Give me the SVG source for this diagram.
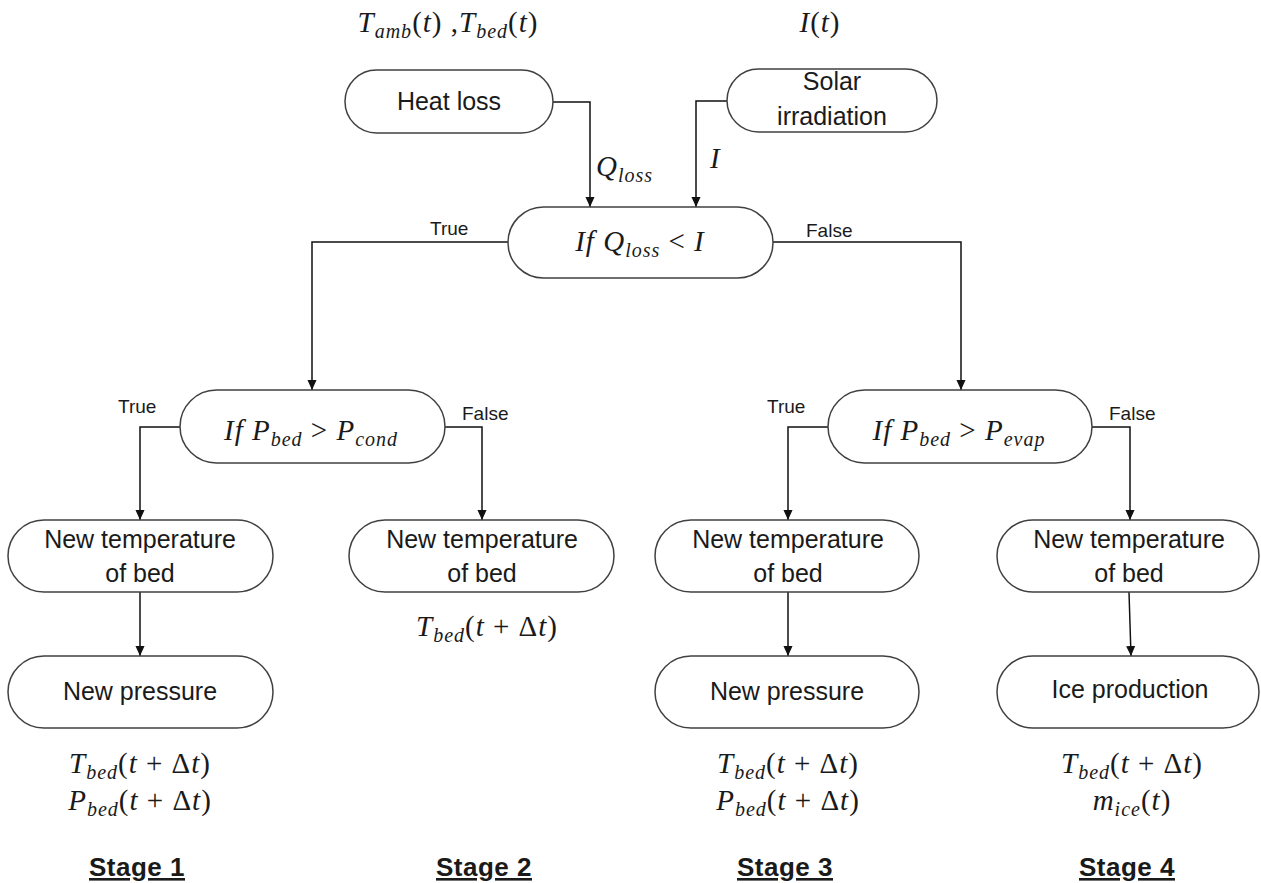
<svg xmlns="http://www.w3.org/2000/svg" width="1261" height="883" viewBox="0 0 1261 883">
  <style>
    .box { fill: #ffffff; stroke: #404040; stroke-width: 1.5; }
    .lbl { font-family: "Liberation Sans", Arial, sans-serif; font-size: 25px; fill: #1a1a1a; text-anchor: middle; }
    .tf { font-family: "Liberation Sans", Arial, sans-serif; font-size: 19px; fill: #1a1a1a; }
    .math { font-family: "Liberation Serif", "Times New Roman", serif; font-size: 29px; letter-spacing: 1px; fill: #1a1a1a; text-anchor: middle; }
    .mathl { font-family: "Liberation Serif", "Times New Roman", serif; font-size: 29px; letter-spacing: 1px; fill: #1a1a1a; }
    .i { font-style: italic; }
    .sub { font-style: italic; font-size: 20px; }
    .stage { font-family: "Liberation Sans", Arial, sans-serif; font-size: 26px; font-weight: bold; letter-spacing: 0.5px; fill: #1a1a1a; text-anchor: middle; text-decoration: underline; }
    .wire { fill: none; stroke: #111111; stroke-width: 1.5; }
  </style>
  <defs>
    <marker id="arrow" markerUnits="userSpaceOnUse" markerWidth="10" markerHeight="11" refX="11" refY="5" orient="auto" viewBox="0 0 11 10">
      <path d="M0,0 L11,5 L0,10 z" fill="#111111"/>
    </marker>
  </defs>
  <rect width="1261" height="883" fill="#ffffff"/>

  <!-- inputs -->
  <text class="math" x="448" y="32"><tspan class="i">T</tspan><tspan class="sub" dy="6">amb</tspan><tspan dy="-6">(</tspan><tspan class="i">t</tspan>) ,<tspan class="i">T</tspan><tspan class="sub" dy="6">bed</tspan><tspan dy="-6">(</tspan><tspan class="i">t</tspan>)</text>
  <text class="math" x="820" y="32"><tspan class="i">I</tspan>(<tspan class="i">t</tspan>)</text>

  <!-- connectors -->
  <g id="connectors">
    <path class="wire" d="M553,102 H590 V207" marker-end="url(#arrow)"/>
    <path class="wire" d="M727,101 H696 V207" marker-end="url(#arrow)"/>
    <path class="wire" d="M508,242 H312 V390" marker-end="url(#arrow)"/>
    <path class="wire" d="M773,242 H961 V390" marker-end="url(#arrow)"/>
    <path class="wire" d="M180,427 H140 V520" marker-end="url(#arrow)"/>
    <path class="wire" d="M445,427 H482 V520" marker-end="url(#arrow)"/>
    <path class="wire" d="M828,427 H788 V520" marker-end="url(#arrow)"/>
    <path class="wire" d="M1092,427 H1130 V520" marker-end="url(#arrow)"/>
    <path class="wire" d="M140,592 V656" marker-end="url(#arrow)"/>
    <path class="wire" d="M788,592 V656" marker-end="url(#arrow)"/>
    <path class="wire" d="M1129,592 L1131,656" marker-end="url(#arrow)"/>
    <text class="mathl" x="596" y="176"><tspan class="i">Q</tspan><tspan class="sub" dy="6">loss</tspan></text>
    <text class="mathl" x="710" y="168"><tspan class="i">I</tspan></text>
    <text class="tf" x="430" y="235">True</text>
    <text class="tf" x="806" y="237">False</text>
    <text class="tf" x="118" y="413">True</text>
    <text class="tf" x="462" y="420">False</text>
    <text class="tf" x="767" y="413">True</text>
    <text class="tf" x="1109" y="420">False</text>
  </g>

  <g id="heat-loss">
    <rect class="box" x="345" y="70" width="208" height="63" rx="31.5"/>
    <text class="lbl" x="449" y="110">Heat loss</text>
  </g>
  <g id="solar-irradiation">
    <rect class="box" x="727" y="69" width="210" height="63" rx="31.5"/>
    <text class="lbl" x="832" y="90">Solar</text>
    <text class="lbl" x="832" y="125">irradiation</text>
  </g>
  <g id="check-loss">
    <rect class="box" x="508" y="207" width="265" height="71" rx="35.5"/>
    <text class="math" x="640" y="251"><tspan class="i">If Q</tspan><tspan class="sub" dy="6">loss</tspan><tspan dy="-6"> &lt; </tspan><tspan class="i">I</tspan></text>
  </g>
  <g id="check-cond">
    <rect class="box" x="180" y="390" width="265" height="73" rx="36.5"/>
    <text class="math" x="311" y="440"><tspan class="i">If P</tspan><tspan class="sub" dy="6">bed</tspan><tspan dy="-6"> &gt; </tspan><tspan class="i">P</tspan><tspan class="sub" dy="6">cond</tspan></text>
  </g>
  <g id="check-evap">
    <rect class="box" x="828" y="390" width="264" height="73" rx="36.5"/>
    <text class="math" x="959" y="440"><tspan class="i">If P</tspan><tspan class="sub" dy="6">bed</tspan><tspan dy="-6"> &gt; </tspan><tspan class="i">P</tspan><tspan class="sub" dy="6">evap</tspan></text>
  </g>

  <g id="temp-1">
    <rect class="box" x="8" y="520" width="265" height="72" rx="36"/>
    <text class="lbl" x="140" y="548">New temperature</text>
    <text class="lbl" x="140" y="582">of bed</text>
  </g>
  <g id="temp-2">
    <rect class="box" x="349" y="520" width="265" height="72" rx="36"/>
    <text class="lbl" x="482" y="548">New temperature</text>
    <text class="lbl" x="482" y="582">of bed</text>
  </g>
  <g id="temp-3">
    <rect class="box" x="655" y="520" width="264" height="72" rx="36"/>
    <text class="lbl" x="788" y="548">New temperature</text>
    <text class="lbl" x="788" y="582">of bed</text>
  </g>
  <g id="temp-4">
    <rect class="box" x="997" y="520" width="262" height="72" rx="36"/>
    <text class="lbl" x="1129" y="548">New temperature</text>
    <text class="lbl" x="1129" y="582">of bed</text>
  </g>

  <g id="pressure-1">
    <rect class="box" x="8" y="656" width="265" height="72" rx="36"/>
    <text class="lbl" x="140" y="700">New pressure</text>
  </g>
  <g id="pressure-3">
    <rect class="box" x="655" y="656" width="264" height="72" rx="36"/>
    <text class="lbl" x="787" y="700">New pressure</text>
  </g>
  <g id="ice">
    <rect class="box" x="997" y="656" width="262" height="72" rx="36"/>
    <text class="lbl" x="1130" y="698">Ice production</text>
  </g>

  <!-- stage outputs -->
  <g id="out-1">
    <text class="math" x="140" y="773"><tspan class="i">T</tspan><tspan class="sub" dy="6">bed</tspan><tspan dy="-6">(</tspan><tspan class="i">t</tspan> + Δ<tspan class="i">t</tspan>)</text>
    <text class="math" x="140" y="810"><tspan class="i">P</tspan><tspan class="sub" dy="6">bed</tspan><tspan dy="-6">(</tspan><tspan class="i">t</tspan> + Δ<tspan class="i">t</tspan>)</text>
    <text class="stage" x="137" y="876">Stage 1</text>
  </g>
  <g id="out-2">
    <text class="math" x="487" y="636"><tspan class="i">T</tspan><tspan class="sub" dy="6">bed</tspan><tspan dy="-6">(</tspan><tspan class="i">t</tspan> + Δ<tspan class="i">t</tspan>)</text>
    <text class="stage" x="484" y="876">Stage 2</text>
  </g>
  <g id="out-3">
    <text class="math" x="788" y="773"><tspan class="i">T</tspan><tspan class="sub" dy="6">bed</tspan><tspan dy="-6">(</tspan><tspan class="i">t</tspan> + Δ<tspan class="i">t</tspan>)</text>
    <text class="math" x="788" y="810"><tspan class="i">P</tspan><tspan class="sub" dy="6">bed</tspan><tspan dy="-6">(</tspan><tspan class="i">t</tspan> + Δ<tspan class="i">t</tspan>)</text>
    <text class="stage" x="785" y="876">Stage 3</text>
  </g>
  <g id="out-4">
    <text class="math" x="1132" y="773"><tspan class="i">T</tspan><tspan class="sub" dy="6">bed</tspan><tspan dy="-6">(</tspan><tspan class="i">t</tspan> + Δ<tspan class="i">t</tspan>)</text>
    <text class="math" x="1132" y="810"><tspan class="i">m</tspan><tspan class="sub" dy="6">ice</tspan><tspan dy="-6">(</tspan><tspan class="i">t</tspan>)</text>
    <text class="stage" x="1127" y="876">Stage 4</text>
  </g>
</svg>
